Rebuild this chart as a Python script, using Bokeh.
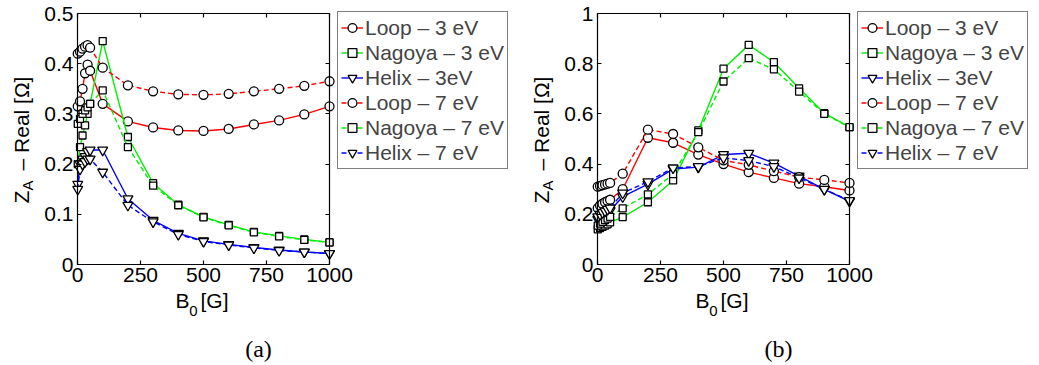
import math
from bokeh.plotting import figure
from bokeh.models import (Range1d, FixedTicker, LinearAxis, Legend, LegendItem, Label)
from bokeh.layouts import row
from bokeh.embed import file_html
from bokeh.resources import INLINE

# ---------------- data ----------------
B = [1, 10, 20, 30, 40, 50, 100, 200, 300, 400, 500, 600, 700, 800, 900, 1000]

names = ["Loop – 3 eV", "Nagoya – 3 eV", "Helix – 3eV",
         "Loop – 7 eV", "Nagoya – 7 eV", "Helix – 7 eV"]

# panel (a)
a_loop_3 = [0.315, 0.325, 0.35, 0.381, 0.398, 0.386, 0.32, 0.285, 0.273, 0.267, 0.266, 0.27, 0.279, 0.287, 0.299, 0.315]
a_nagoya_3 = [0.20, 0.234, 0.257, 0.277, 0.30, 0.32, 0.445, 0.254, 0.162, 0.119, 0.095, 0.079, 0.065, 0.057, 0.05, 0.044]
a_helix_3 = [0.16, 0.20, 0.21, 0.215, 0.225, 0.228, 0.228, 0.131, 0.088, 0.062, 0.047, 0.04, 0.034, 0.029, 0.025, 0.022]
a_loop_7 = [0.42, 0.424, 0.43, 0.434, 0.437, 0.432, 0.392, 0.357, 0.345, 0.339, 0.338, 0.34, 0.345, 0.35, 0.356, 0.365]
a_nagoya_7 = [0.28, 0.29, 0.30, 0.307, 0.313, 0.32, 0.347, 0.234, 0.157, 0.118, 0.094, 0.078, 0.064, 0.056, 0.049, 0.044]
a_helix_7 = [0.15, 0.19, 0.20, 0.205, 0.21, 0.21, 0.184, 0.118, 0.085, 0.06, 0.046, 0.039, 0.033, 0.028, 0.025, 0.022]

# panel (b)
b_loop_3 = [0.225, 0.235, 0.242, 0.248, 0.253, 0.258, 0.30, 0.505, 0.485, 0.438, 0.40, 0.368, 0.345, 0.322, 0.31, 0.295]
b_nagoya_3 = [0.14, 0.145, 0.15, 0.155, 0.16, 0.168, 0.189, 0.248, 0.335, 0.534, 0.78, 0.875, 0.806, 0.702, 0.603, 0.547]
b_helix_3 = [0.18, 0.19, 0.197, 0.203, 0.21, 0.215, 0.27, 0.32, 0.38, 0.388, 0.438, 0.443, 0.404, 0.352, 0.299, 0.252]
b_loop_7 = [0.31, 0.313, 0.316, 0.319, 0.322, 0.325, 0.362, 0.537, 0.52, 0.467, 0.415, 0.397, 0.372, 0.348, 0.337, 0.325]
b_nagoya_7 = [0.155, 0.163, 0.17, 0.177, 0.183, 0.19, 0.224, 0.279, 0.36, 0.527, 0.729, 0.822, 0.777, 0.689, 0.60, 0.547]
b_helix_7 = [0.19, 0.2, 0.207, 0.213, 0.22, 0.225, 0.285, 0.33, 0.385, 0.39, 0.425, 0.414, 0.39, 0.345, 0.30, 0.255]

x_ticks = [0, 250, 500, 750, 1000]
a_y_ticks = [0, 0.1, 0.2, 0.3, 0.4, 0.5]
b_y_ticks = [0, 0.2, 0.4, 0.6, 0.8, 1]

x_label_main, x_label_sub, x_label_rest = "B", "0", "[G]"
y_label_main, y_label_sub, y_label_rest = "Z", "A", "– Real [Ω]"

# ---------------- styling / layout ----------------
colors = ["#ff0000", "#00ee00", "#0000ff", "#ff0000", "#00ee00", "#0000ff"]
markers = ["circle", "square", "inverted_triangle", "circle", "square", "inverted_triangle"]
msizes = [9, 7, 10, 9, 7, 10]
dashes = ["solid", "solid", "solid", "5 3", "5 3", "5 3"]
SANS = "Liberation Sans"
FS = "21px"
H = 365
AX_L, AX_R = 77, 329      # pixel columns of B=0 and B=1000 inside each panel
AX_T, AX_B = 13, 264      # pixel rows of y=max and y=0
XMAX = 1000


def make_panel(series, ymax, yticks, yover, caption, width):
    xs = (AX_R - AX_L) / XMAX
    ys = (AX_B - AX_T) / ymax
    xr = Range1d(-AX_L / xs, (width - AX_L) / xs)
    yr_ = Range1d(-(H - AX_B) / ys, AX_B / ys)
    p = figure(width=width, height=H, output_backend="svg", toolbar_location=None,
               x_range=xr, y_range=yr_, x_axis_type=None, y_axis_type=None,
               min_border=0)
    p.title.visible = False
    p.outline_line_color = None
    p.background_fill_color = "white"
    p.border_fill_color = "white"

    def style(ax, labels=True):
        ax.major_tick_in = 4
        ax.major_tick_out = 0
        ax.minor_tick_line_color = None
        ax.axis_line_color = "black"
        ax.axis_line_width = 1.2
        ax.major_tick_line_width = 1.2
        if labels:
            ax.major_label_text_font = SANS
            ax.major_label_text_font_size = FS
            ax.major_label_text_color = "black"
        else:
            ax.major_label_text_font_size = "1px"
            ax.major_label_text_color = None

    xb = LinearAxis(ticker=FixedTicker(ticks=x_ticks), fixed_location=0, bounds=(0, XMAX))
    style(xb)
    xb.major_label_standoff = 3
    p.add_layout(xb, "below")
    xt = LinearAxis(ticker=FixedTicker(ticks=x_ticks), fixed_location=ymax, bounds=(0, XMAX))
    style(xt, False)
    p.add_layout(xt, "above")
    yl = LinearAxis(ticker=FixedTicker(ticks=yticks), major_label_overrides=yover,
                    fixed_location=0, bounds=(0, ymax))
    style(yl)
    yl.major_label_standoff = 4
    p.add_layout(yl, "left")
    yrax = LinearAxis(ticker=FixedTicker(ticks=yticks), fixed_location=XMAX, bounds=(0, ymax))
    style(yrax, False)
    p.add_layout(yrax, "right")

    items = []
    for vals, name, c, m, s, d in zip(series, names, colors, markers, msizes, dashes):
        lr = p.line(B, vals, line_color=c, line_width=1.4, line_dash=d)
        sr = p.scatter(B, vals, marker=m, size=s, fill_color="white",
                       line_color="black", line_width=1.3)
        items.append(LegendItem(label=name, renderers=[lr, sr]))

    leg = Legend(items=items, location=(337, H - 13 - 156))
    leg.label_text_font = SANS
    leg.label_text_font_size = FS
    leg.label_text_baseline = "middle"
    leg.label_height = 25
    leg.glyph_height = 25
    leg.glyph_width = 22
    leg.label_standoff = 2
    leg.spacing = 0
    leg.padding = 3
    leg.margin = 0
    leg.border_line_color = "black"
    leg.border_line_width = 1.2
    leg.background_fill_alpha = 1.0
    p.add_layout(leg, "center")

    def lab(text, cx, cy_top, size=FS, angle=0.0, font=SANS):
        p.add_layout(Label(x=cx, y=H - cy_top, x_units="screen", y_units="screen",
                           text=text, text_font=font, text_font_size=size, angle=angle,
                           text_align="center", text_baseline="middle",
                           text_color="black"))

    # x axis label  B_0 [G]
    lab(x_label_main, 182, 300)
    lab(x_label_sub, 193, 310, size="15px")
    lab(x_label_rest, 214, 300)
    # y axis label  Z_A – Real [Ω]
    lab(y_label_main, 21, 196.5, angle=math.pi / 2)
    lab(y_label_sub, 27, 185, size="15px", angle=math.pi / 2)
    lab(y_label_rest, 21, 123, angle=math.pi / 2)
    # caption
    lab(caption, 258, 348, size="24px", font="Liberation Serif")
    return p


pa = make_panel([a_loop_3, a_nagoya_3, a_helix_3, a_loop_7, a_nagoya_7, a_helix_7],
                0.5, a_y_ticks, {0: "0"}, "(a)", 520)
pb = make_panel([b_loop_3, b_nagoya_3, b_helix_3, b_loop_7, b_nagoya_7, b_helix_7],
                1.0, b_y_ticks, {0: "0", 1: "1"}, "(b)", 519)

layout = row(pa, pb)
open("out.html", "w").write(file_html(layout, INLINE))
